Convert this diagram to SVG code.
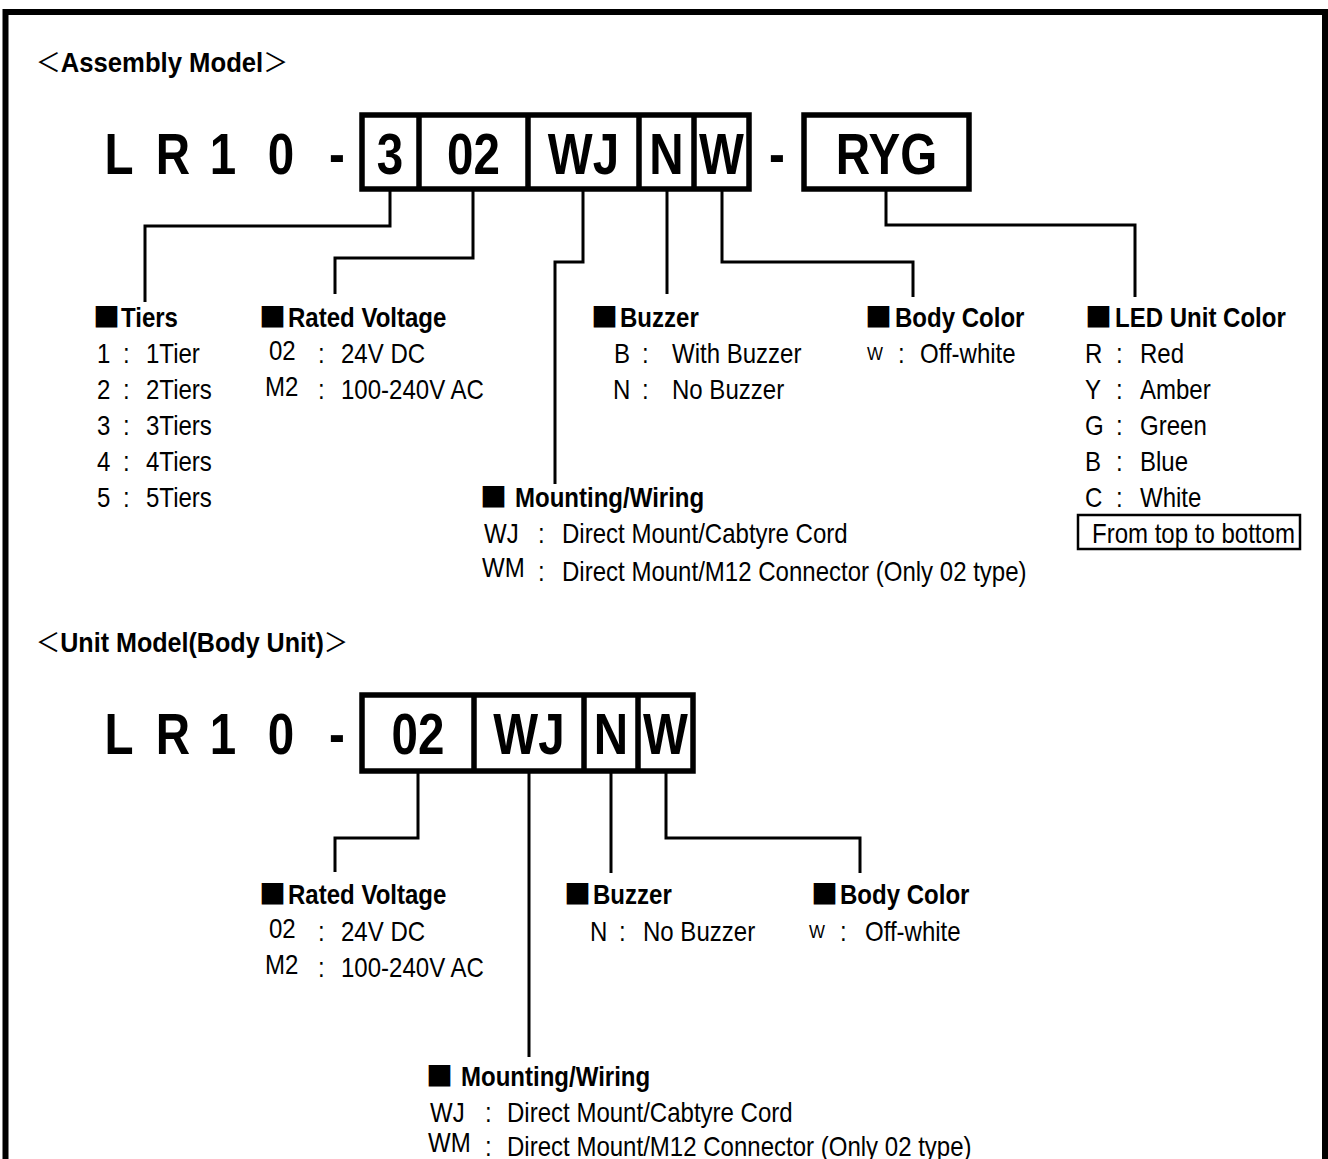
<svg xmlns="http://www.w3.org/2000/svg" width="1328" height="1159" viewBox="0 0 1328 1159">
<style>
text { font-family: "Liberation Sans", Arial, sans-serif; fill: #000; }
.n { font-size: 27px; transform-box: fill-box; transform-origin: 0 0; transform: scaleX(0.89); }
.h { font-size: 27px; font-weight: bold; transform-box: fill-box; transform-origin: 0 0; transform: scaleX(0.89); }
.ttl { font-size: 27px; font-weight: bold; }
.br { font-family: "Noto Sans CJK JP", "Liberation Sans", sans-serif; font-weight: normal; font-size: 26px; }
.sq { font-family: "Noto Sans CJK JP", "Liberation Sans", sans-serif; font-size: 27px; }
.sm { font-size: 19px; transform-box: fill-box; transform-origin: 0 0; transform: scaleX(0.89); }
.big { font-size: 58px; font-weight: bold; text-anchor: middle; transform-box: fill-box; transform-origin: 50% 50%; transform: scaleX(0.82); }
.box { fill: none; stroke: #000; stroke-width: 5.5; }
.div { stroke: #000; stroke-width: 5.5; }
.con { fill: none; stroke: #000; stroke-width: 3; }
</style>

<rect x="5.5" y="12" width="1319.5" height="1200" fill="none" stroke="#000" stroke-width="6"/>

<!-- Assembly Model -->
<g id="title-assembly">
<text class="ttl" x="36" y="72" textLength="252" lengthAdjust="spacingAndGlyphs"><tspan class="br">＜</tspan>Assembly Model<tspan class="br">＞</tspan></text>
</g>

<g id="code-assembly">
<text class="big" x="119" y="174">L</text>
<text class="big" x="173" y="174">R</text>
<text class="big" x="223" y="174">1</text>
<text class="big" x="281" y="174">0</text>
<text class="big" x="337" y="174">-</text>
<rect class="box" x="362" y="115" width="387" height="74"/>
<line class="div" x1="419" y1="115" x2="419" y2="189"/>
<line class="div" x1="528" y1="115" x2="528" y2="189"/>
<line class="div" x1="639" y1="115" x2="639" y2="189"/>
<line class="div" x1="694" y1="115" x2="694" y2="189"/>
<text class="big" x="390" y="174">3</text>
<text class="big" x="473.5" y="174">02</text>
<text class="big" x="583.5" y="174">WJ</text>
<text class="big" x="666.5" y="174">N</text>
<text class="big" x="721.5" y="174">W</text>
<text class="big" x="777" y="174">-</text>
<rect class="box" x="804" y="115" width="165" height="74"/>
<text class="big" x="886.5" y="174">RYG</text>
</g>

<g id="connectors">
<polyline class="con" points="390,189 390,226 145,226 145,302"/>
<polyline class="con" points="473,189 473,258 335,258 335,294"/>
<polyline class="con" points="583,189 583,262 555,262 555,484"/>
<polyline class="con" points="667,189 667,294"/>
<polyline class="con" points="722,189 722,262 913,262 913,297"/>
<polyline class="con" points="886,189 886,225 1135,225 1135,297"/>
<polyline class="con" points="418,771 418,838 335,838 335,872"/>
<polyline class="con" points="529,771 529,1057"/>
<polyline class="con" points="611,771 611,873"/>
<polyline class="con" points="666,771 666,838 860,838 860,873"/>
</g>

<g id="tiers">
<text class="sq" x="93" y="327">■</text>
<text class="h" x="121" y="327">Tiers</text>
<text class="n" x="97" y="363">1</text><text class="n" x="123" y="363">:</text><text class="n" x="146" y="363">1Tier</text>
<text class="n" x="97" y="399">2</text><text class="n" x="123" y="399">:</text><text class="n" x="146" y="399">2Tiers</text>
<text class="n" x="97" y="435">3</text><text class="n" x="123" y="435">:</text><text class="n" x="146" y="435">3Tiers</text>
<text class="n" x="97" y="471">4</text><text class="n" x="123" y="471">:</text><text class="n" x="146" y="471">4Tiers</text>
<text class="n" x="97" y="507">5</text><text class="n" x="123" y="507">:</text><text class="n" x="146" y="507">5Tiers</text>
</g>

<g id="rated-voltage">
<text class="sq" x="259" y="327">■</text>
<text class="h" x="288" y="327">Rated Voltage</text>
<text class="n" x="269" y="360">02</text><text class="n" x="318" y="363">:</text><text class="n" x="341" y="363">24V DC</text>
<text class="n" x="265" y="396">M2</text><text class="n" x="318" y="399">:</text><text class="n" x="341" y="399">100-240V AC</text>
</g>

<g id="mounting-wiring">
<text class="sq" x="480" y="507">■</text>
<text class="h" x="515" y="507">Mounting/Wiring</text>
<text class="n" x="484" y="543">WJ</text><text class="n" x="538" y="543">:</text><text class="n" x="562" y="543">Direct Mount/Cabtyre Cord</text>
<text class="n" x="482" y="577">WM</text><text class="n" x="538" y="581">:</text><text class="n" x="562" y="581">Direct Mount/M12 Connector (Only 02 type)</text>
</g>

<g id="buzzer">
<text class="sq" x="591" y="327">■</text>
<text class="h" x="620" y="327">Buzzer</text>
<text class="n" x="614" y="363">B</text><text class="n" x="642" y="363">:</text><text class="n" x="672" y="363">With Buzzer</text>
<text class="n" x="613" y="399">N</text><text class="n" x="642" y="399">:</text><text class="n" x="672" y="399">No Buzzer</text>
</g>

<g id="body-color">
<text class="sq" x="865" y="327">■</text>
<text class="h" x="895" y="327">Body Color</text>
<text class="sm" x="867" y="360">W</text><text class="n" x="898" y="363">:</text><text class="n" x="920" y="363">Off-white</text>
</g>

<g id="led-unit-color">
<text class="sq" x="1085" y="327">■</text>
<text class="h" x="1115" y="327">LED Unit Color</text>
<text class="n" x="1085" y="363">R</text><text class="n" x="1116" y="363">:</text><text class="n" x="1140" y="363">Red</text>
<text class="n" x="1085" y="399">Y</text><text class="n" x="1116" y="399">:</text><text class="n" x="1140" y="399">Amber</text>
<text class="n" x="1085" y="435">G</text><text class="n" x="1116" y="435">:</text><text class="n" x="1140" y="435">Green</text>
<text class="n" x="1085" y="471">B</text><text class="n" x="1116" y="471">:</text><text class="n" x="1140" y="471">Blue</text>
<text class="n" x="1085" y="507">C</text><text class="n" x="1116" y="507">:</text><text class="n" x="1140" y="507">White</text>
<rect x="1078" y="515" width="222" height="34" fill="none" stroke="#000" stroke-width="2.5"/>
<text class="n" x="1092" y="543">From top to bottom</text>
</g>

<!-- Unit Model -->
<g id="title-unit">
<text class="ttl" x="36" y="652" textLength="312" lengthAdjust="spacingAndGlyphs"><tspan class="br">＜</tspan>Unit Model(Body Unit)<tspan class="br">＞</tspan></text>
</g>

<g id="code-unit">
<text class="big" x="119" y="754">L</text>
<text class="big" x="173" y="754">R</text>
<text class="big" x="223" y="754">1</text>
<text class="big" x="281" y="754">0</text>
<text class="big" x="337" y="754">-</text>
<rect class="box" x="362" y="695" width="331" height="76"/>
<line class="div" x1="474" y1="695" x2="474" y2="771"/>
<line class="div" x1="584" y1="695" x2="584" y2="771"/>
<line class="div" x1="638" y1="695" x2="638" y2="771"/>
<text class="big" x="418" y="754">02</text>
<text class="big" x="529" y="754">WJ</text>
<text class="big" x="611" y="754">N</text>
<text class="big" x="665.5" y="754">W</text>
</g>

<g id="rated-voltage-2">
<text class="sq" x="259" y="904">■</text>
<text class="h" x="288" y="904">Rated Voltage</text>
<text class="n" x="269" y="938">02</text><text class="n" x="318" y="941">:</text><text class="n" x="341" y="941">24V DC</text>
<text class="n" x="265" y="974">M2</text><text class="n" x="318" y="977">:</text><text class="n" x="341" y="977">100-240V AC</text>
</g>

<g id="buzzer-2">
<text class="sq" x="564" y="904">■</text>
<text class="h" x="593" y="904">Buzzer</text>
<text class="n" x="590" y="941">N</text><text class="n" x="619" y="941">:</text><text class="n" x="643" y="941">No Buzzer</text>
</g>

<g id="body-color-2">
<text class="sq" x="811" y="904">■</text>
<text class="h" x="840" y="904">Body Color</text>
<text class="sm" x="809" y="938">W</text><text class="n" x="840" y="941">:</text><text class="n" x="865" y="941">Off-white</text>
</g>

<g id="mounting-wiring-2">
<text class="sq" x="426" y="1086">■</text>
<text class="h" x="461" y="1086">Mounting/Wiring</text>
<text class="n" x="430" y="1122">WJ</text><text class="n" x="485" y="1122">:</text><text class="n" x="507" y="1122">Direct Mount/Cabtyre Cord</text>
<text class="n" x="428" y="1152">WM</text><text class="n" x="485" y="1156">:</text><text class="n" x="507" y="1156">Direct Mount/M12 Connector (Only 02 type)</text>
</g>
</svg>
